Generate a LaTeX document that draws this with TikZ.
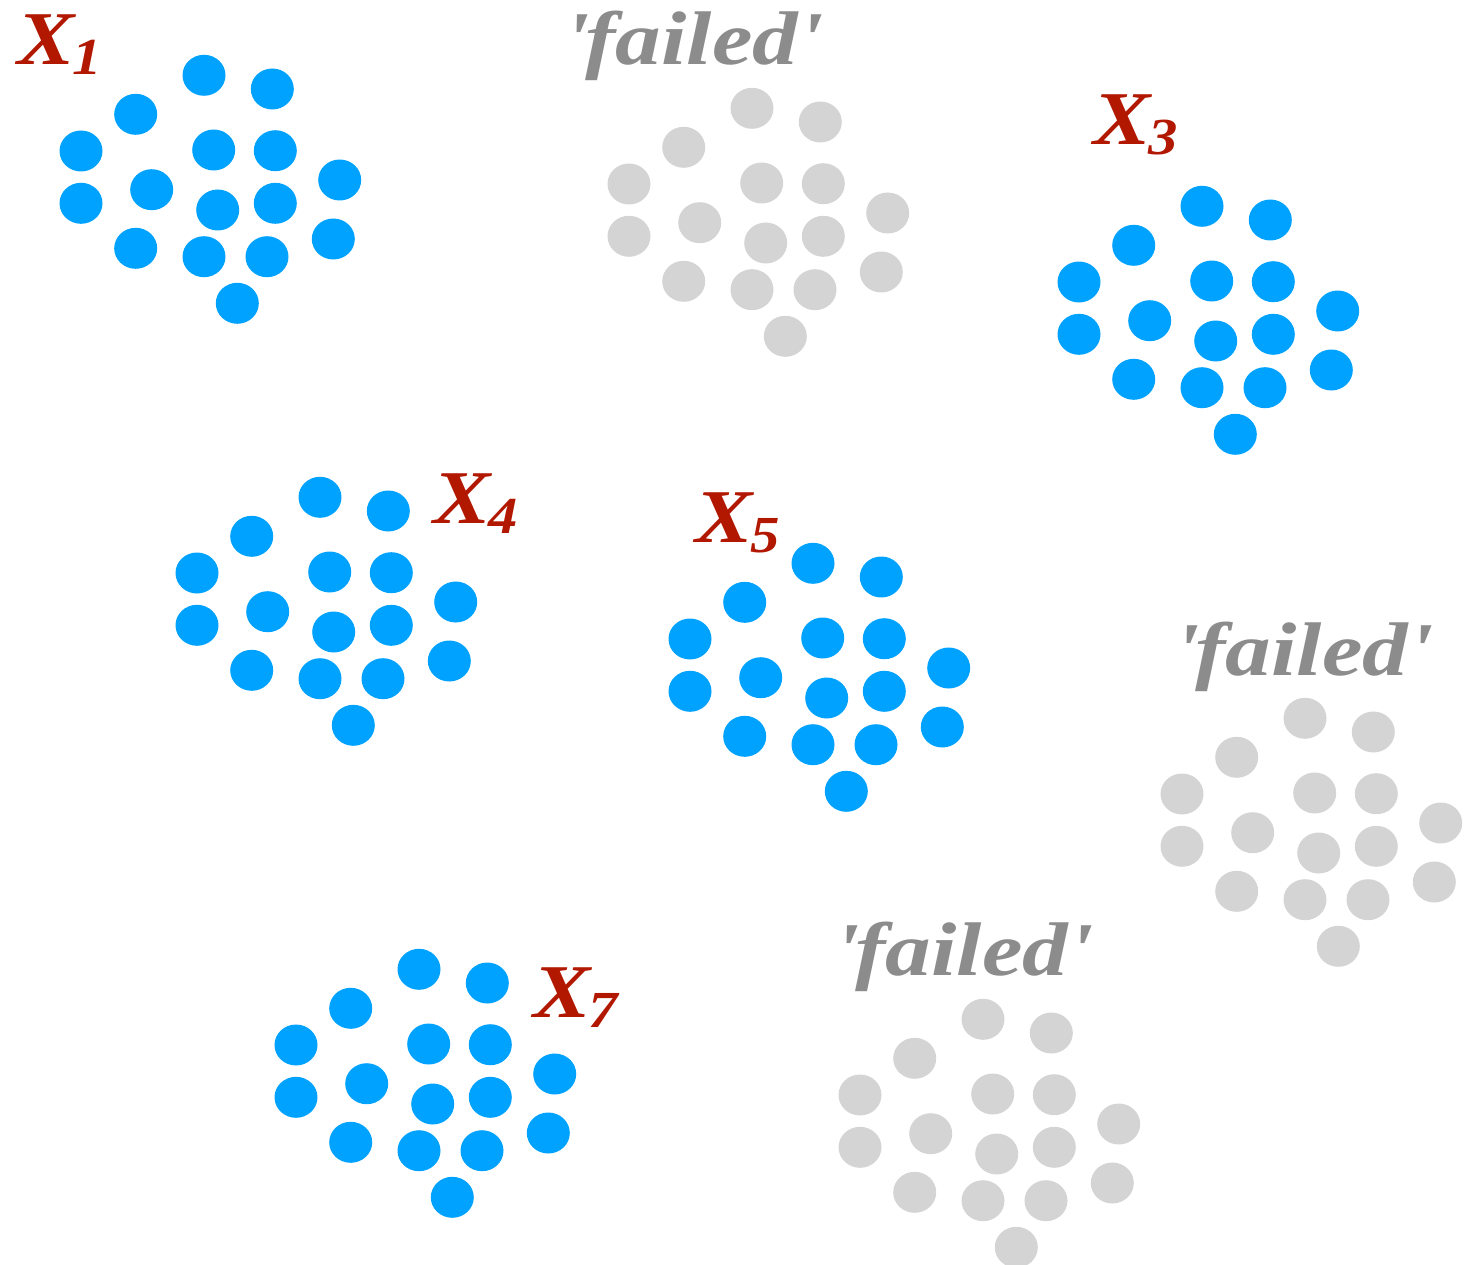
\documentclass[tikz,border=0pt]{standalone}
\usepackage{fontspec}
\newfontfamily\labfont{Liberation Serif}[FakeStretch=1.13]
\newfontfamily\failfont{Liberation Serif}[FakeStretch=1.2]
\definecolor{dotblue}{RGB}{0,162,255}
\definecolor{dotgray}{RGB}{212,212,212}
\definecolor{labred}{RGB}{178,24,0}
\definecolor{labgray}{RGB}{140,140,140}
\newcommand{\subx}[1]{X\kern-2pt\raisebox{-10pt}{\fontsize{52}{52}\selectfont #1}}
\tikzset{
  lab/.style={anchor=base west, inner sep=0pt},
  xlab/.style={lab, text=labred, font=\labfont\fontsize{76}{80}\selectfont\bfseries\itshape},
  flab/.style={lab, text=labgray, font=\failfont\fontsize{76}{80}\selectfont\bfseries\itshape},
}
\begin{document}
\begin{tikzpicture}[x=1pt,y=-1pt]
\useasboundingbox (0,0) rectangle (1479,1265);
\foreach \dx/\dy/\col in {0/0/dotblue, 548/33/dotgray, 998/131/dotblue, 116/422/dotblue, 609/488/dotblue, 1101/643/dotgray, 215/894/dotblue, 779/944/dotgray}{
  \foreach \px/\py in {204/75.3, 272.3/89, 135.7/114.3, 81/151, 213.7/150, 275.3/150.7, 339.7/180, 81/203.3, 151.7/189.7, 217.7/210, 275.3/203.3, 135.7/248.3, 204/256.7, 267/256.7, 333.3/239, 237.3/303.3}{
    \fill[\col] (\px+\dx,\py+\dy) ellipse [x radius=21.5, y radius=20.5];
  }
}
\node[xlab] (x1) at (17,65) {\subx{1}};
\node[flab] (f1) at (564,65) {\textquotesingle failed\textquotesingle};
\node[xlab] (x3) at (1093,145) {\subx{3}};
\node[xlab] (x4) at (433,523) {\subx{4}};
\node[xlab] (x5) at (695,542) {\subx{5}};
\node[flab] (f2) at (1174,675) {\textquotesingle failed\textquotesingle};
\node[xlab] (x7) at (533,1017) {\subx{7}};
\node[flab] (f3) at (834,975) {\textquotesingle failed\textquotesingle};
\end{tikzpicture}
\end{document}
